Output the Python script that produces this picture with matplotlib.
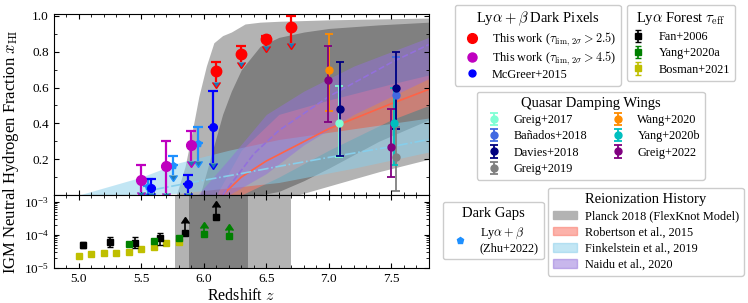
import numpy as np
import matplotlib
matplotlib.use('Agg')
import matplotlib.pyplot as plt
from matplotlib.patches import Patch
from matplotlib.lines import Line2D
from matplotlib.ticker import MultipleLocator, LogLocator, NullFormatter

plt.rcParams['font.family'] = ['Liberation Serif', 'DejaVu Serif']
plt.rcParams['mathtext.fontset'] = 'cm'
plt.rcParams['xtick.direction'] = 'in'
plt.rcParams['ytick.direction'] = 'in'
plt.rcParams['xtick.top'] = True
plt.rcParams['ytick.right'] = True

####### Dados ###############################################
# Planck 2018 FlexKnot (95% e 68%)
z_pl95 = [5.78, 5.85, 5.90, 5.96, 6.02, 6.08, 6.15, 6.22, 6.33, 6.45, 6.6, 6.75, 7.0, 7.4, 7.8]
pl95_hi = [0.0, 0.16, 0.33, 0.55, 0.72, 0.85, 0.89, 0.91, 0.955, 0.965, 0.97, 0.973, 0.978, 0.983, 0.988]
pl95_lo = [0, 0, 0, 0, 0, 0, 0, 0, 0, 0, 0, 0.0, 0.05, 0.13, 0.20]
z_pl68 = [5.97, 6.05, 6.15, 6.22, 6.30, 6.45, 6.6, 6.8, 7.0, 7.4, 7.8]
pl68_hi = [0.0, 0.2, 0.45, 0.58, 0.70, 0.83, 0.88, 0.91, 0.93, 0.95, 0.965]
pl68_lo = [0, 0, 0, 0, 0, 0, 0.02, 0.08, 0.15, 0.30, 0.42]

# Robertson et al. 2015
z_rob = [6.1, 6.3, 6.6, 7.0, 7.5, 7.8]
rob_hi = [0.0, 0.25, 0.45, 0.53, 0.62, 0.67]
rob_lo = [0.0, 0.0, 0.10, 0.25, 0.42, 0.50]
z_rob_mid = [6.15, 6.3, 6.5, 6.75, 7.0, 7.5, 7.8]
rob_mid = [0.0, 0.10, 0.19, 0.28, 0.37, 0.51, 0.59]

# Finkelstein et al. 2019
z_fin = [5.0, 5.5, 5.8, 6.2, 6.6, 7.2, 7.8]
fin_hi = [0.0, 0.10, 0.18, 0.25, 0.31, 0.37, 0.43]
fin_lo = [0.0, 0.0, 0.01, 0.04, 0.07, 0.15, 0.24]
z_fin_mid = [5.6, 5.9, 6.3, 6.6, 7.0, 7.5, 7.8]
fin_mid = [0.03, 0.07, 0.12, 0.16, 0.21, 0.27, 0.31]

# Naidu et al. 2020
z_nai = [5.95, 6.2, 6.5, 6.8, 7.2, 7.8]
nai_hi = [0.0, 0.20, 0.45, 0.58, 0.72, 0.88]
nai_lo = [0.0, 0.0, 0.12, 0.28, 0.45, 0.65]
z_nai_mid = [6.15, 6.4, 6.6, 7.0, 7.5, 7.8]
nai_mid = [0.0, 0.23, 0.36, 0.55, 0.74, 0.84]

# Dark pixels
red_z = [6.1, 6.3, 6.5, 6.7]
red_x = [0.69, 0.79, 0.87, 0.94]
red_up = [0.05, 0.04, 0.02, 0.06]
red_dn = [0.06, 0.05, 0.04, 0.09]

mag_z = [5.5, 5.7, 5.9]
mag_x = [0.085, 0.16, 0.28]
mag_up = [0.08, 0.14, 0.075]
mag_dn = [0.07, 0.15, 0.09]

mcg_z = [5.58, 5.87, 6.07]
mcg_x = [0.04, 0.06, 0.38]
mcg_up = [0.05, 0.05, 0.20]
mcg_dn = [0.03, 0.05, 0.20]

# Dark gaps (Zhu+2022)
zhu_z = [5.55, 5.75, 5.95]
zhu_x = [0.05, 0.17, 0.29]
zhu_up = [0.04, 0.05, 0.09]
zhu_dn = [0.04, 0.06, 0.10]

# Quasar damping wings
gr17_z, gr17_x, gr17_up, gr17_dn = [7.085], [0.40], [0.21], [0.19]
ban18_z, ban18_x, ban18_up, ban18_dn = [7.54], [0.56], [0.21], [0.18]
dav18_z, dav18_x, dav18_up, dav18_dn = [7.09, 7.54], [0.48, 0.60], [0.26, 0.20], [0.26, 0.23]
gr19_z, gr19_x, gr19_up, gr19_dn = [7.54], [0.21], [0.17], [0.19]
wang20_z, wang20_x, wang20_up, wang20_dn = [7.0], [0.70], [0.20], [0.23]
yang20_z, yang20_x, yang20_up, yang20_dn = [7.52], [0.40], [0.20], [0.23]
gr22_z, gr22_x, gr22_up, gr22_dn = [6.99, 7.5], [0.64, 0.27], [0.19, 0.21], [0.23, 0.17]

# Lya forest tau_eff
fan_z = [5.03, 5.25, 5.45, 5.65]
fan_x = [5.0e-5, 6.0e-5, 5.7e-5, 7.9e-5]
fan_up = [1.2e-5, 2.9e-5, 3.0e-5, 3.5e-5]
fan_dn = [1.0e-5, 1.6e-5, 1.7e-5, 2.9e-5]
fan_lim_z = [5.85, 6.1]
fan_lim_x = [1.12e-4, 3.55e-4]

yang_z = [5.4, 5.6, 5.8]
yang_x = [5.3e-5, 6.7e-5, 8.2e-5]
yang_lim_z = [6.0, 6.2]
yang_lim_x = [1.04e-4, 9.5e-5]

bos_z = [5.0, 5.1, 5.2, 5.3, 5.4, 5.5, 5.6, 5.7, 5.8]
bos_x = [2.3e-5, 2.6e-5, 2.8e-5, 2.8e-5, 3.1e-5, 3.7e-5, 4.4e-5, 5.6e-5, 6.2e-5]

# faixas de Planck no painel de baixo
pl_end95 = (5.77, 6.70)
pl_end68 = (5.88, 6.35)

####### Figura ###############################
fig = plt.figure(figsize=(7.48, 3.03), dpi=100)
ax = fig.add_axes([0.072, 0.3564, 0.5013, 0.597])
axb = fig.add_axes([0.072, 0.1155, 0.5013, 0.2409], sharex=ax)

cinza_claro = '#b3b3b3'
cinza_escuro = '#808080'

ax.fill_between(z_pl95, pl95_lo, pl95_hi, color=cinza_claro, lw=0, zorder=0)
ax.fill_between(z_pl68, pl68_lo, pl68_hi, color=cinza_escuro, lw=0, zorder=0.5)
ax.fill_between(z_rob, rob_lo, rob_hi, color='salmon', alpha=0.6, lw=0, zorder=1)
ax.fill_between(z_fin, fin_lo, fin_hi, color='skyblue', alpha=0.5, lw=0, zorder=1)
ax.fill_between(z_nai, nai_lo, nai_hi, color='mediumpurple', alpha=0.5, lw=0, zorder=1)
ax.plot(z_rob_mid, rob_mid, color='tomato', lw=1.2, zorder=1.5)
ax.plot(z_fin_mid, fin_mid, color='skyblue', lw=1.2, ls='-.', zorder=1.5)
ax.plot(z_nai_mid, nai_mid, color='mediumpurple', lw=1.2, ls='--', zorder=1.5)


def limite_sup(ax, z, x, up, dn, cor, ms, mk='o'):
    # barra de erro para cima com cap + seta para baixo
    ax.errorbar(z, x, yerr=[np.zeros(len(z)), up], fmt='none', ecolor=cor,
                elinewidth=1.6, capsize=3.5, capthick=1.6, zorder=3)
    ax.errorbar(z, x, yerr=dn, uplims=True, fmt='none', ecolor=cor,
                elinewidth=1.6, zorder=3)
    ax.plot(z, x, mk, color=cor, ms=ms, ls='none', zorder=4)


limite_sup(ax, zhu_z, zhu_x, zhu_up, zhu_dn, 'dodgerblue', 4.5, 'p')
limite_sup(ax, mag_z, mag_x, mag_up, mag_dn, 'm', 7)
limite_sup(ax, mcg_z, mcg_x, mcg_up, mcg_dn, 'b', 5.5)
limite_sup(ax, red_z, red_x, red_up, red_dn, 'r', 7.5)

qdw = [
    (gr17_z, gr17_x, gr17_up, gr17_dn, 'aquamarine', 'Greig+2017'),
    (ban18_z, ban18_x, ban18_up, ban18_dn, 'royalblue', 'Bañados+2018'),
    (dav18_z, dav18_x, dav18_up, dav18_dn, 'navy', 'Davies+2018'),
    (gr19_z, gr19_x, gr19_up, gr19_dn, 'gray', 'Greig+2019'),
    (wang20_z, wang20_x, wang20_up, wang20_dn, 'darkorange', 'Wang+2020'),
    (yang20_z, yang20_x, yang20_up, yang20_dn, 'c', 'Yang+2020b'),
    (gr22_z, gr22_x, gr22_up, gr22_dn, 'purple', 'Greig+2022'),
]
qdw_handles = []
for z, x, up, dn, cor, nome in qdw:
    h = ax.errorbar(z, x, yerr=[dn, up], fmt='o', color=cor, ms=5, elinewidth=1.3,
                    capsize=3, capthick=1.3, zorder=3, label=nome)
    qdw_handles.append(h)

# painel de baixo
axb.axvspan(*pl_end95, color=cinza_claro, lw=0, zorder=0)
axb.axvspan(*pl_end68, color=cinza_escuro, lw=0, zorder=0.5)

h_fan = axb.errorbar(fan_z, fan_x, yerr=[fan_dn, fan_up], fmt='s', color='k', ms=4.5,
                     elinewidth=1.2, capsize=2.5, zorder=3, label='Fan+2006')
axb.errorbar(fan_lim_z, fan_lim_x, yerr=np.array(fan_lim_x) * 1.0, lolims=True, fmt='s',
             color='k', ms=4.5, elinewidth=1.2, zorder=3)
h_yang = axb.errorbar(yang_z, yang_x, yerr=np.array(yang_x) * 0.08, fmt='s', color='g', ms=4.5,
                      elinewidth=1.2, capsize=2.5, zorder=3, label='Yang+2020a')
axb.errorbar(yang_lim_z, yang_lim_x, yerr=np.array(yang_lim_x) * 0.5, lolims=True, fmt='s',
             color='g', ms=4.5, elinewidth=1.2, zorder=3)
h_bos = axb.errorbar(bos_z, bos_x, yerr=np.array(bos_x) * 0.06, fmt='s', color='y', ms=4.5,
                     elinewidth=1.2, capsize=2.5, zorder=2, label='Bosman+2021')

# eixos
ax.set_xlim(4.8, 7.8)
ax.set_ylim(0, 1.01)
ax.set_yticks([0.2, 0.4, 0.6, 0.8, 1.0])
ax.yaxis.set_minor_locator(MultipleLocator(0.1))
ax.xaxis.set_major_locator(MultipleLocator(0.5))
ax.xaxis.set_minor_locator(MultipleLocator(0.1))
ax.tick_params(labelbottom=False, labelsize=9.5)
ax.tick_params(which='both', direction='in', top=True, right=True)

axb.set_yscale('log')
axb.set_ylim(1e-5, 1.6e-3)
axb.yaxis.set_major_locator(LogLocator(numticks=10))
axb.yaxis.set_minor_locator(LogLocator(subs=np.arange(2, 10), numticks=10))
axb.yaxis.set_minor_formatter(NullFormatter())
axb.tick_params(labelsize=9.5)
axb.tick_params(which='both', direction='in', top=True, right=True)
axb.set_xlabel('Redshift $z$', fontsize=11.5, labelpad=2)

fig.text(0.015, 0.5, r'IGM Neutral Hydrogen Fraction $x_{\rm HI}$', rotation=90,
         ha='center', va='center', fontsize=12)

# legendas
kw = dict(fontsize=8.8, title_fontsize=10.5, handletextpad=0.6, borderpad=0.4,
          labelspacing=0.45, framealpha=1, borderaxespad=0)
h_dp = [Line2D([], [], marker='o', color='r', ls='none', ms=7),
        Line2D([], [], marker='o', color='m', ls='none', ms=6.5),
        Line2D([], [], marker='o', color='b', ls='none', ms=5)]
kw_dp = dict(kw, labelspacing=0.15)
l1 = fig.legend(h_dp, [r'This work ($\tau_{\rm lim,\,2\sigma}>2.5$)',
                       r'This work ($\tau_{\rm lim,\,2\sigma}>4.5$)', 'McGreer+2015'],
                title=r'Ly$\alpha+\beta$ Dark Pixels', loc='upper left',
                bbox_to_anchor=(455 / 748, 1 - 5 / 303), **kw_dp)
kw_f = dict(kw, handlelength=1.0, handletextpad=1.2, labelspacing=0.35)
l2 = fig.legend([h_fan, h_yang, h_bos], ['Fan+2006', 'Yang+2020a', 'Bosman+2021'],
                title=r'Ly$\alpha$ Forest $\tau_{\rm eff}$', loc='upper left',
                bbox_to_anchor=(627 / 748, 1 - 5 / 303), **kw_f)
kw_q = dict(kw, labelspacing=0.35)
l3 = fig.legend(qdw_handles, [q[5] for q in qdw], ncol=2, columnspacing=1.5,
                title='Quasar Damping Wings', loc='upper left',
                bbox_to_anchor=(477 / 748, 1 - 92 / 303), **kw_q)
l4 = fig.legend([Line2D([], [], marker='p', color='dodgerblue', ls='none', ms=5)],
                ['Ly$\\alpha+\\beta$\n(Zhu+2022)'], title='Dark Gaps', loc='upper left',
                bbox_to_anchor=(443 / 748, 1 - 202 / 303), **kw)
h_rh = [Patch(color=cinza_claro, alpha=1), Patch(color='salmon', alpha=0.6),
        Patch(color='skyblue', alpha=0.5), Patch(color='mediumpurple', alpha=0.5)]
l5 = fig.legend(h_rh, ['Planck 2018 (FlexKnot Model)', 'Robertson et al., 2015',
                       'Finkelstein et al., 2019', 'Naidu et al., 2020'],
                title='Reionization History', loc='upper left',
                bbox_to_anchor=(548 / 748, 1 - 188 / 303), **kw_q)

fig.savefig('out.png', dpi=100)
